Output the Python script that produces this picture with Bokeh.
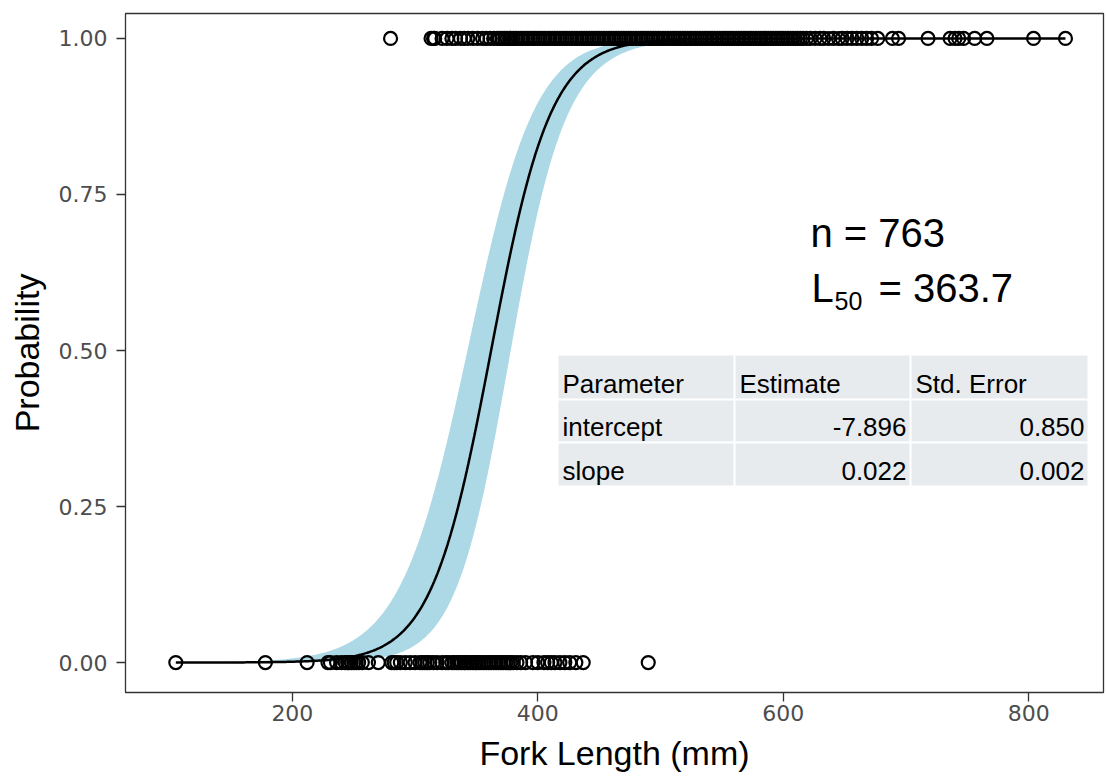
import numpy as np
from bokeh.plotting import figure
from bokeh.models import Label, BoxAnnotation, FixedTicker, NumeralTickFormatter, Range1d
from bokeh.embed import file_html
from bokeh.resources import INLINE

# ---------------- data ----------------
immature_fl = [105, 178, 212, 229, 231, 236, 240, 243, 245, 246, 248, 250, 252, 254, 257,
               262, 270, 281, 283, 285, 288, 292, 296, 300, 304, 306, 308, 310, 312, 315,
               318, 322, 325, 327, 330, 332, 334, 336, 338, 340, 341, 343, 345, 347, 349,
               350, 352, 354, 356, 358, 360, 362, 364, 366, 368, 370, 372, 374, 376, 378,
               380, 383, 386, 390, 396, 400, 405, 408, 411, 414, 418, 422, 426, 431, 437, 490]
mature_fl = [280, 313, 315, 316, 322, 326, 330, 333, 337, 340, 343, 347, 351, 355, 358, 361,
             364, 367, 369, 371, 373, 375, 377, 378, 380, 382, 384, 386, 388, 390, 392, 394,
             396, 398, 400, 402, 404, 406, 408, 410, 412, 414, 416, 418, 420, 422, 424, 426,
             428, 430, 432, 434, 436, 438, 440, 442, 444, 446, 448, 450, 452, 454, 456, 458,
             460, 462, 464, 466, 468, 470, 472, 474, 476, 478, 480, 482, 484, 486, 488, 490,
             492, 494, 496, 498, 500, 502, 504, 506, 508, 510, 512, 514, 516, 518, 520, 522,
             524, 526, 528, 530, 532, 534, 536, 538, 540, 542, 544, 546, 548, 550, 552, 554,
             556, 558, 560, 562, 564, 566, 568, 570, 572, 574, 576, 578, 580, 582, 584, 586,
             588, 590, 592, 594, 596, 598, 600, 602, 604, 606, 608, 610, 612, 614, 616, 619,
             622, 626, 630, 633, 637, 641, 645, 648, 652, 656, 660, 664, 668, 672, 677, 689,
             694, 718, 736, 740, 743, 747, 756, 766, 804, 830]

# fitted logistic curve (as drawn) and its confidence band parameters
curve_b0 = -14.84
curve_b1 = 0.041
band_center = 420.0
band_se0 = 0.30
band_se_slope = 0.0035

n_fish = 763
l50_value = "363.7"
table_header = ["Parameter", "Estimate", "Std. Error"]
table_rows = [["intercept", "-7.896", "0.850"],
              ["slope", "0.022", "0.002"]]
x_ticks = [200, 400, 600, 800]
y_ticks = [0, 0.25, 0.5, 0.75, 1.0]

# ---------------- figure ----------------
X0, X1 = 64.0, 861.0
Y0, Y1 = -0.048, 1.04
ML, MR, MT, MB = 125, 4, 13, 85
W, H = 1107, 777
FW, FH = W - ML - MR, H - MT - MB

def fx(px):
    return X0 + (px - ML) / FW * (X1 - X0)

def fy(py):
    return Y1 - (py - MT) / FH * (Y1 - Y0)

p = figure(width=W, height=H, x_range=Range1d(X0, X1), y_range=Range1d(Y0, Y1),
           output_backend="svg", toolbar_location=None,
           min_border_left=ML, min_border_right=MR, min_border_top=MT, min_border_bottom=MB)
p.background_fill_color = "white"
p.border_fill_color = "white"
p.outline_line_color = "#333333"
p.outline_line_width = 1.3
p.xgrid.visible = False
p.ygrid.visible = False

# band + curve
xs = np.linspace(min(immature_fl + mature_fl), max(immature_fl + mature_fl), 600)
eta = curve_b0 + curve_b1 * xs
se = np.sqrt(band_se0 ** 2 + ((xs - band_center) * band_se_slope) ** 2)
lo = 1 / (1 + np.exp(-(eta - 1.96 * se)))
hi = 1 / (1 + np.exp(-(eta + 1.96 * se)))
pr = 1 / (1 + np.exp(-eta))
p.varea(x=xs, y1=lo, y2=hi, fill_color="#ADD8E6", fill_alpha=1.0)

pts_x = immature_fl + mature_fl
pts_y = [0] * len(immature_fl) + [1] * len(mature_fl)
p.scatter(x=pts_x, y=pts_y, marker="circle", size=13, fill_color=None,
          line_color="black", line_width=2.2)
p.line(x=xs, y=pr, line_color="black", line_width=2.5)

# axes
for ax in (p.xaxis[0], p.yaxis[0]):
    ax.axis_line_color = "#333333"
    ax.major_tick_line_color = "#333333"
    ax.major_tick_line_width = 1.3
    ax.major_tick_out = 9
    ax.major_tick_in = 0
    ax.minor_tick_line_color = None
    ax.major_label_text_font = "DejaVu Sans"
    ax.major_label_text_font_size = "22px"
    ax.major_label_text_color = "#4D4D4D"
    ax.axis_label_text_font = "Liberation Sans"
    ax.axis_label_text_font_size = "34px"
    ax.axis_label_text_font_style = "normal"
    ax.axis_label_text_color = "black"
p.yaxis.major_label_standoff = 9
p.xaxis.major_label_standoff = 3
p.xaxis.ticker = FixedTicker(ticks=x_ticks)
p.yaxis.ticker = FixedTicker(ticks=y_ticks)
p.yaxis.formatter = NumeralTickFormatter(format="0.00")
p.xaxis.axis_label = "Fork Length (mm)"
p.yaxis.axis_label = "Probability"
p.xaxis.axis_label_standoff = 10
p.yaxis.axis_label_standoff = 10

# annotation text
afont = "Liberation Sans"
p.add_layout(Label(x=fx(810), y=fy(232), text=f"n = {n_fish}", text_font=afont,
                   text_font_size="40px", text_color="black", text_baseline="alphabetic"))
p.add_layout(Label(x=fx(811), y=fy(287), text="L", text_font=afont,
                   text_font_size="40px", text_color="black", text_baseline="alphabetic"))
p.add_layout(Label(x=fx(834), y=fy(300), text="50", text_font=afont,
                   text_font_size="25px", text_color="black", text_baseline="alphabetic"))
p.add_layout(Label(x=fx(878), y=fy(287), text=f"= {l50_value}", text_font=afont,
                   text_font_size="40px", text_color="black", text_baseline="alphabetic"))

# table
col_px = [(558, 733), (735, 909), (911, 1087)]
row_px = [(355, 398), (400, 441), (443, 485)]
rows = [table_header] + table_rows
for ri, (t, b) in enumerate(row_px):
    for ci, (l, r) in enumerate(col_px):
        p.add_layout(BoxAnnotation(left=fx(l), right=fx(r), top=fy(t), bottom=fy(b),
                                   fill_color="#E7EBEE", fill_alpha=1.0, line_color=None,
                                   level="underlay"))
        txt = rows[ri][ci]
        right_align = ri > 0 and ci > 0
        xpos = fx(r - 3) if right_align else fx(l + 4)
        p.add_layout(Label(x=xpos, y=fy(b - 15), text=txt, text_font=afont,
                           text_font_size="26px", text_color="black",
                           text_align="right" if right_align else "left",
                           text_baseline="alphabetic"))

open("out.html", "w").write(file_html(p, INLINE))
